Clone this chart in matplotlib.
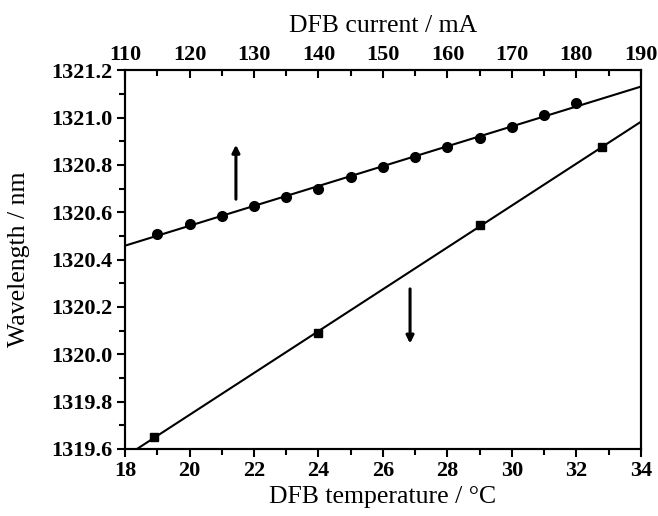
import numpy as np
import matplotlib
matplotlib.use('Agg')
import matplotlib.pyplot as plt

plt.rcParams['font.family'] = ['Liberation Serif', 'DejaVu Serif']
plt.rcParams['mathtext.fontset'] = 'stix'

# current scan (top axis), circles
current_mA = [115, 120, 125, 130, 135, 140, 145, 150, 155, 160, 165, 170, 175, 180]
wl_current = [1320.51, 1320.55, 1320.585, 1320.625, 1320.665, 1320.70, 1320.75,
              1320.79, 1320.835, 1320.875, 1320.915, 1320.96, 1321.01, 1321.06]

# temperature scan (bottom axis), squares
temp_C = [18.9, 24.0, 29.0, 32.8]
wl_temp = [1319.65, 1320.09, 1320.545, 1320.875]

fig = plt.figure(figsize=(6.58, 5.16), dpi=100)
ax = fig.add_axes([0.19, 0.130, 0.784, 0.734])
ax2 = ax.twiny()

# linear fits
pt = np.polyfit(temp_C, wl_temp, 1)
xt = np.array([18, 34])
ax.plot(xt, np.polyval(pt, xt), color='black', lw=1.5, zorder=2)
ax.plot(temp_C, wl_temp, 's', color='black', ms=6, zorder=3)

pc = np.polyfit(current_mA, wl_current, 1)
xc = np.array([110, 190])
ax2.plot(xc, np.polyval(pc, xc), color='black', lw=1.5, zorder=2)
ax2.plot(current_mA, wl_current, 'o', color='black', ms=7, zorder=3)

ax.set_xlim(18, 34)
ax.set_ylim(1319.6, 1321.2)
ax2.set_xlim(110, 190)

ax.set_xticks(np.arange(18, 35, 2))
ax.set_xticks(np.arange(19, 34, 2), minor=True)
ax.set_yticks(np.arange(1319.6, 1321.21, 0.2))
ax.set_yticks(np.arange(1319.7, 1321.2, 0.2), minor=True)
ax.yaxis.set_major_formatter(matplotlib.ticker.FormatStrFormatter('%.1f'))
ax2.set_xticks(np.arange(110, 191, 10))
ax2.set_xticks(np.arange(115, 190, 10), minor=True)

for a in (ax, ax2):
    for s in a.spines.values():
        s.set_linewidth(1.5)

ax.tick_params(axis='both', which='major', direction='out', length=6, width=1.5,
               labelsize=16, top=False, right=False, pad=3)
ax.tick_params(axis='both', which='minor', direction='out', length=4, width=1.5,
               top=False, right=False)
ax2.tick_params(axis='x', which='major', direction='in', length=6, width=1.5,
                labelsize=16, pad=4)
ax2.tick_params(axis='x', which='minor', direction='in', length=4, width=1.5)
for lab in ax.get_xticklabels() + ax.get_yticklabels() + ax2.get_xticklabels():
    lab.set_fontweight('bold')

ax.set_xlabel('DFB temperature / °C', fontsize=18.5, labelpad=3)
ax.set_ylabel('Wavelength / nm', fontsize=18.5, labelpad=15)
ax2.set_xlabel('DFB current / mA', fontsize=18.5, labelpad=9)

# direction arrows
ax.annotate('', xy=(21.44, 1320.885), xytext=(21.44, 1320.655),
            arrowprops=dict(arrowstyle='-|>', color='black', lw=2.2, mutation_scale=11,
                            shrinkA=0, shrinkB=0))
ax.annotate('', xy=(26.84, 1320.045), xytext=(26.84, 1320.276),
            arrowprops=dict(arrowstyle='-|>', color='black', lw=2.2, mutation_scale=11,
                            shrinkA=0, shrinkB=0))

fig.savefig('out.png', dpi=100)
